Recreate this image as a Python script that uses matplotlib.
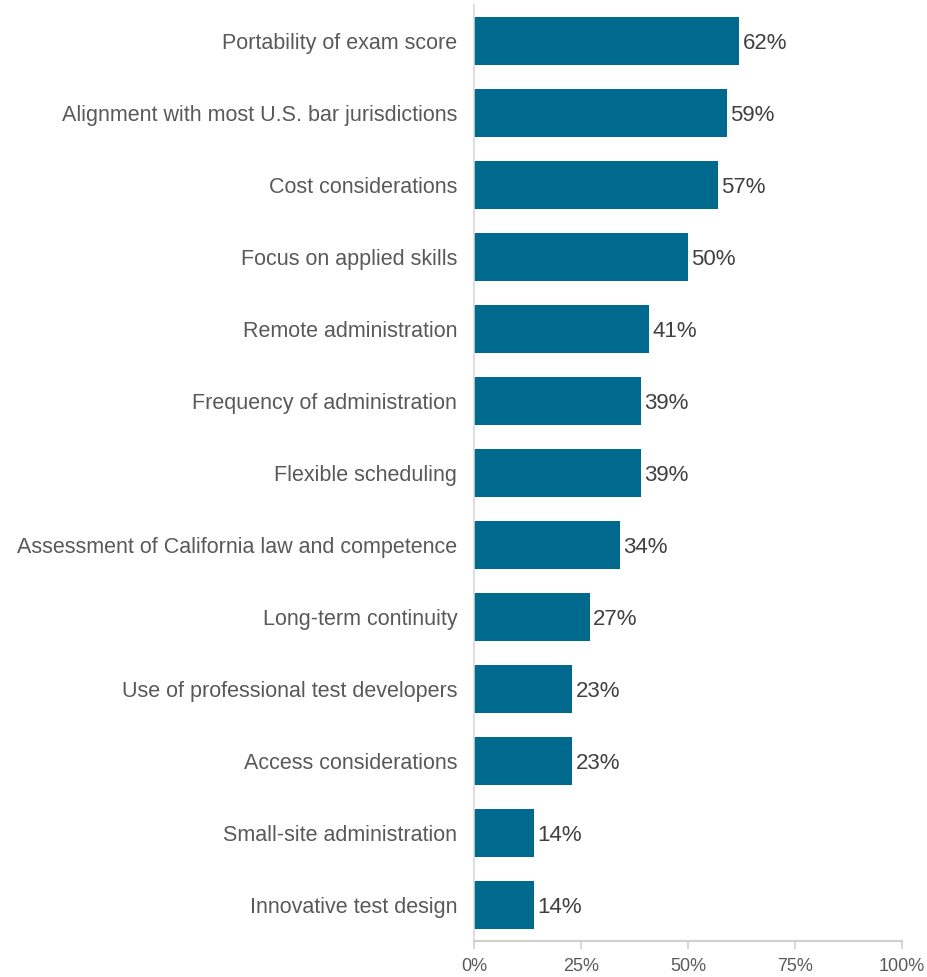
import matplotlib.pyplot as plt
from matplotlib.ticker import FuncFormatter

factors = [
    "Portability of exam score",
    "Alignment with most U.S. bar jurisdictions",
    "Cost considerations",
    "Focus on applied skills",
    "Remote administration",
    "Frequency of administration",
    "Flexible scheduling",
    "Assessment of California law and competence",
    "Long-term continuity",
    "Use of professional test developers",
    "Access considerations",
    "Small-site administration",
    "Innovative test design",
]
pct = [62, 59, 57, 50, 41, 39, 39, 34, 27, 23, 23, 14, 14]
xticks = [0, 25, 50, 75, 100]

plt.rcParams['font.family'] = ['Liberation Sans Narrow', 'Liberation Sans', 'DejaVu Sans']

fig = plt.figure(figsize=(9.28, 9.77), dpi=100)
ax = fig.add_axes([474 / 928, 36 / 977, 428 / 928, 936 / 977])

ypos = list(range(len(factors)))
ax.barh(ypos, pct, height=0.67, color='#006A8E')
ax.set_ylim(len(factors) - 0.5, -0.5)
ax.set_xlim(0, 100)

for y, v in zip(ypos, pct):
    ax.text(v + 0.8, y, f"{v}%", va='center_baseline', ha='left', fontsize=16, color='#404040')

ax.set_yticks(ypos)
ax.set_yticklabels(factors, fontsize=15.5, color='#595959')
ax.tick_params(axis='y', length=0, pad=12)

ax.set_xticks(xticks)
ax.xaxis.set_major_formatter(FuncFormatter(lambda v, p: f"{int(v)}%"))
ax.tick_params(axis='x', length=6, width=1.2, color='#d0d0d0', labelsize=13, labelcolor='#595959', pad=6)

for s in ['top', 'right']:
    ax.spines[s].set_visible(False)
ax.spines['left'].set_color('#d9d9d9')
ax.spines['left'].set_linewidth(1.2)
ax.spines['bottom'].set_color('#d0d0d0')
ax.spines['bottom'].set_linewidth(1.5)

fig.savefig('out.png', dpi=100)
